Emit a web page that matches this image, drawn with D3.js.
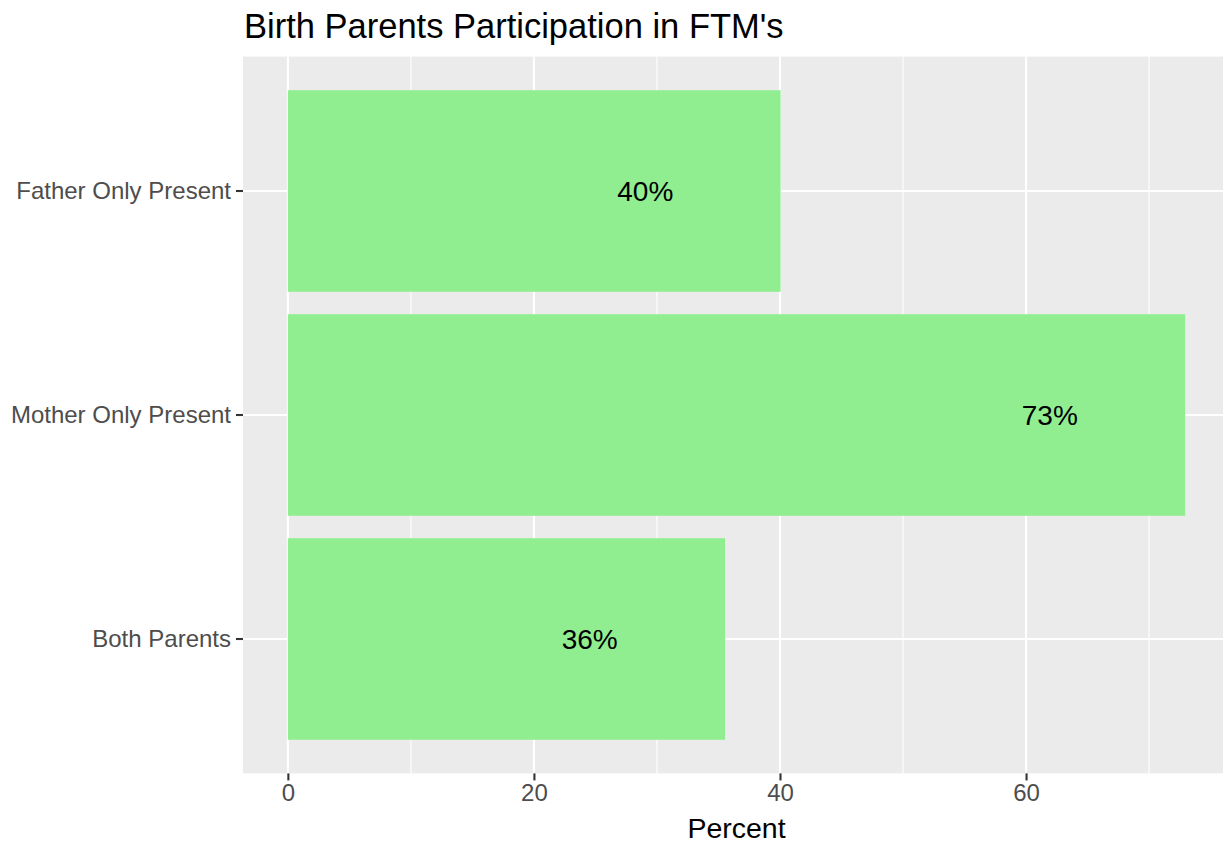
<!DOCTYPE html>
<html>
<head>
<meta charset="utf-8">
<script src="https://cdn.jsdelivr.net/npm/d3@7"></script>
<style>
  body { margin: 0; background: #fff; }
  svg { display: block; font-family: "Liberation Sans", Arial, sans-serif; }
</style>
</head>
<body>
<script>
// categories top to bottom, as drawn
var categories = ["Father Only Present", "Mother Only Present", "Both Parents"];
var percents = [40.05, 72.93, 35.53];
var xTicks = [0, 20, 40, 60];
var minorTicks = [10, 30, 50, 70];

var W = 1223, H = 843;
var panel = {left: 243, top: 56.6, bottom: 773.4, right: 1230};

var svg = d3.select("body").append("svg")
	.attr("width", W)
	.attr("height", H);

// ggplot style 5% expansion on the continuous axis
var maxV = d3.max(percents);
var x = d3.scaleLinear()
	.domain([-0.05 * maxV, maxV * 1.05])
	.range([panel.left, panel.right]);

var y = d3.scaleBand()
	.domain(categories)
	.range([panel.top, panel.bottom])
	.paddingInner(0.1)
	.paddingOuter(0.15);

svg.append("rect")
	.attr("x", panel.left)
	.attr("y", panel.top)
	.attr("width", panel.right - panel.left)
	.attr("height", panel.bottom - panel.top)
	.attr("fill", "#ebebeb");

// grid lines
svg.selectAll(".minor").data(minorTicks).enter().append("line")
	.attr("x1", function(d){ return x(d); })
	.attr("x2", function(d){ return x(d); })
	.attr("y1", panel.top)
	.attr("y2", panel.bottom)
	.attr("stroke", "#fff")
	.attr("stroke-width", 1.1);

svg.selectAll(".major").data(xTicks).enter().append("line")
	.attr("x1", function(d){ return x(d); })
	.attr("x2", function(d){ return x(d); })
	.attr("y1", panel.top)
	.attr("y2", panel.bottom)
	.attr("stroke", "#fff")
	.attr("stroke-width", 2.1);

svg.selectAll(".hgrid").data(categories).enter().append("line")
	.attr("x1", panel.left)
	.attr("x2", panel.right)
	.attr("y1", function(d){ return y(d) + y.bandwidth() / 2; })
	.attr("y2", function(d){ return y(d) + y.bandwidth() / 2; })
	.attr("stroke", "#fff")
	.attr("stroke-width", 2.1);

// bars
svg.selectAll(".bar").data(percents).enter().append("rect")
	.attr("x", x(0))
	.attr("y", function(d, i){ return y(categories[i]); })
	.attr("width", function(d){ return x(d) - x(0); })
	.attr("height", y.bandwidth())
	.attr("fill", "#90ee90");

// labels sit a bit inside the bar end
var labelOffset = 11;
svg.selectAll(".lab").data(percents).enter().append("text")
	.attr("x", function(d){ return x(d - labelOffset); })
	.attr("y", function(d, i){ return y(categories[i]) + y.bandwidth() / 2; })
	.attr("dy", ".35em")
	.attr("text-anchor", "middle")
	.attr("font-size", "28px")
	.attr("fill", "#000")
	.text(function(d){ return Math.round(d) + "%"; });

// axes
var xAxis = svg.append("g")
	.attr("transform", "translate(0," + panel.bottom + ")")
	.call(d3.axisBottom(x).tickValues(xTicks).tickSize(7).tickPadding(4));
var yAxis = svg.append("g")
	.attr("transform", "translate(" + panel.left + ",0)")
	.call(d3.axisLeft(y).tickSize(7).tickPadding(5));

[xAxis, yAxis].forEach(function(ax){
	ax.select(".domain").remove();
	ax.selectAll(".tick line").attr("stroke", "#333").attr("stroke-width", 2.1);
	ax.selectAll(".tick text")
		.attr("fill", "#4d4d4d")
		.attr("font-size", "24px")
		.attr("font-family", "'Liberation Sans', Arial, sans-serif");
});

svg.append("text")
	.attr("x", (panel.left + panel.right) / 2)
	.attr("y", 838)
	.attr("text-anchor", "middle")
	.attr("font-size", "28.5px")
	.text("Percent");

svg.append("text")
	.attr("x", panel.left + 1)
	.attr("y", 38)
	.attr("font-size", "34.5px")
	.text("Birth Parents Participation in FTM's");
</script>
</body>
</html>
